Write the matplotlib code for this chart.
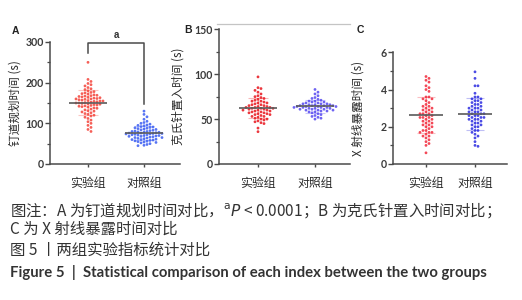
import matplotlib
matplotlib.use("Agg")
import matplotlib.pyplot as plt
import numpy as np

CJK = ["Noto Sans CJK SC", "DejaVu Sans"]
plt.rcParams["font.family"] = CJK

groups = ["实验组", "对照组"]

# panel A: 钉道规划时间 (s)
a_exp = [250, 208, 203, 198, 195, 192, 188, 185, 183, 180, 178, 176, 175, 173, 172, 170, 169, 168, 167, 166,
         165, 164, 163, 162, 161, 160, 160, 159, 158, 157, 156, 155, 155, 154, 153, 152, 151, 150, 150, 149,
         148, 147, 146, 145, 144, 143, 142, 141, 140, 138, 137, 135, 133, 131, 130, 128, 126, 124, 122, 120,
         118, 115, 112, 108, 104, 100, 95, 90, 85, 80]
a_ctl = [130, 122, 116, 110, 105, 102, 100, 98, 96, 95, 94, 92, 91, 90, 89, 88, 87, 86, 85, 84, 83, 82, 81,
         80, 80, 79, 78, 78, 77, 76, 76, 75, 75, 74, 74, 73, 72, 72, 71, 70, 70, 69, 68, 68, 67, 66, 65, 65,
         64, 63, 62, 61, 60, 60, 59, 58, 57, 56, 55, 54, 53, 52, 50, 48, 46, 45]

# panel B: 克氏针置入时间 (s)
b_exp = [97, 85, 84, 82, 80, 78, 76, 75, 74, 73, 72, 71, 70, 70, 69, 68, 68, 67, 66, 66, 65, 65, 64, 64, 63,
         63, 63, 62, 62, 62, 61, 61, 60, 60, 60, 59, 59, 58, 58, 57, 57, 56, 56, 55, 55, 54, 53, 53, 52, 51,
         50, 50, 49, 48, 47, 46, 45, 40, 36]
b_ctl = [83, 80, 78, 76, 74, 73, 72, 71, 70, 70, 69, 69, 68, 68, 67, 67, 67, 66, 66, 66, 65, 65, 65, 65, 64,
         64, 64, 64, 63, 63, 63, 63, 62, 62, 62, 61, 61, 61, 60, 60, 60, 59, 59, 58, 58, 57, 56, 55, 54, 53,
         52, 51, 50]

# panel C: X 射线暴露时间 (s)
c_exp = [4.7, 4.6, 4.5, 4.4, 4.2, 4.1, 4.0, 3.9, 3.6, 3.6, 3.5, 3.5, 3.4, 3.3, 3.2, 3.1, 3.1, 3.0, 3.0, 2.9,
         2.9, 2.8, 2.8, 2.7, 2.7, 2.7, 2.6, 2.6, 2.5, 2.5, 2.5, 2.4, 2.4, 2.3, 2.3, 2.2, 2.2, 2.1, 2.1, 2.0,
         2.0, 1.9, 1.8, 1.8, 1.7, 1.7, 1.7, 1.6, 1.5, 1.5, 1.4, 1.3, 1.2, 1.1, 1.0, 0.6]
c_ctl = [4.95, 4.6, 4.2, 4.2, 3.8, 3.6, 3.6, 3.5, 3.5, 3.4, 3.4, 3.3, 3.3, 3.2, 3.2, 3.1, 3.1, 3.0, 3.0, 3.0,
         2.9, 2.9, 2.8, 2.8, 2.8, 2.7, 2.7, 2.7, 2.6, 2.6, 2.6, 2.5, 2.5, 2.5, 2.4, 2.4, 2.4, 2.3, 2.3, 2.2,
         2.2, 2.1, 2.1, 2.0, 2.0, 1.9, 1.8, 1.8, 1.7, 1.6, 1.5, 1.4, 1.2, 1.0, 0.95]

panels = [
    dict(letter="A", data=(a_exp, a_ctl), ylabel="钉道规划时间 (s)", ylim=300, major=100,
         colors=("#f4433a", "#3a5cf2"), rect=(50, 42, 180), tick1=88, xspan=56, lab_x=22, let_xy=(12, 31)),
    dict(letter="B", data=(b_exp, b_ctl), ylabel="克氏针置入时间 (s)", ylim=150, major=50,
         colors=("#e8141c", "#5548f0"), rect=(219, 29.3, 350), tick1=258, xspan=57, lab_x=185, let_xy=(184, 30)),
    dict(letter="C", data=(c_exp, c_ctl), ylabel="X 射线暴露时间 (s)", ylim=6, major=2,
         colors=("#f2283a", "#2b2be0"), rect=(393, 52.3, 507), tick1=426, xspan=49, lab_x=365, let_xy=(357, 30)),
]

W, H = 522, 300
Y0 = 164  # pixel row of y = 0


def swarm(vals, px_per_unit, d=3.0):
    placed = []
    offs = []
    for v in vals:
        y = v * px_per_unit
        k = 0
        done = False
        while not done:
            for c in ([0.0] if k == 0 else [k * d, -k * d]):
                if all((c - px) ** 2 + (y - py) ** 2 >= d * d for px, py in placed):
                    placed.append((c, y))
                    offs.append(c)
                    done = True
                    break
            k += 1
    return np.array(offs)


fig = plt.figure(figsize=(W / 100, H / 100), dpi=100)
fig.patch.set_facecolor("white")

for p in panels:
    left, top, right = p["rect"]
    ax = fig.add_axes([left / W, 1 - Y0 / H, (right - left) / W, (Y0 - top) / H])
    x_lo = 1 - (p["tick1"] - left) / p["xspan"]
    x_hi = 1 + (right - p["tick1"]) / p["xspan"]
    ax.set_xlim(x_lo, x_hi)
    ax.set_ylim(0, p["ylim"])
    px_per_unit = (Y0 - top) / p["ylim"]

    for i, (vals, col) in enumerate(zip(p["data"], p["colors"])):
        vals = np.array(vals, dtype=float)
        xpos = i + 1 + swarm(vals, px_per_unit) / p["xspan"]
        ax.scatter(xpos, vals, s=4, color=col, edgecolors="none", alpha=0.85, zorder=3)
        m = vals.mean()
        sd = vals.std()
        ax.hlines([m + sd, m - sd], i + 1 - 0.18, i + 1 + 0.18, color=col, alpha=0.3, lw=0.8, zorder=2)
        ax.vlines(i + 1, m - sd, m + sd, color=col, alpha=0.3, lw=0.8, zorder=2)
        ax.hlines(m, i + 1 - 0.34, i + 1 + 0.34, color="#5a5a5a", lw=1.2, zorder=4)

    for s in ["top", "right"]:
        ax.spines[s].set_visible(False)
    for s in ["left", "bottom"]:
        ax.spines[s].set_color("#4a4a4a")
        ax.spines[s].set_linewidth(1.1)
    ax.set_yticks(np.arange(0, p["ylim"] + 1e-9, p["major"]))
    ax.set_yticks(np.arange(p["major"] / 2, p["ylim"], p["major"]), minor=True)
    ax.tick_params(axis="y", which="major", length=3.5, width=1, color="#4a4a4a", labelsize=7.6,
                   labelcolor="#3a3a3a", pad=1)
    ax.tick_params(axis="y", which="minor", length=2, width=0.9, color="#4a4a4a")
    ax.set_xticks([1, 2])
    ax.set_xticklabels(groups, fontsize=8.6, color="#2a2a2a")
    ax.tick_params(axis="x", length=2.5, width=1, color="#4a4a4a", pad=7)
    for lab in ax.get_yticklabels():
        lab.set_family(["Lato", "DejaVu Sans"])
        lab.set_fontweight("bold")
    ax.set_ylabel(p["ylabel"], fontsize=8.4, color="#2a2a2a")
    ax.yaxis.set_label_coords((p["lab_x"] - left) / (right - left), 0.5)
    ax.patch.set_alpha(0)
    fig.text(p["let_xy"][0] / W, 1 - p["let_xy"][1] / H, p["letter"], fontsize=7.5, fontweight="bold",
             family=["Liberation Sans"], color="#222222", va="center")

    if p["letter"] == "A":
        ax.plot([1, 1, 2, 2], [273, 297, 297, 148], color="#4a4a4a", lw=1.1, clip_on=False)
        ax.text(1.5, 304, "a", ha="center", va="bottom", fontsize=7, fontweight="bold",
                family=["Liberation Sans"], color="#333333")

# faint image border line above panel B
fig.add_artist(plt.Line2D([217 / W, 350 / W], [1 - 24 / H, 1 - 24 / H], color="#c4c4c4", lw=0.9))

cap_col = "#333333"
fig.text(10 / W, 1 - 210 / H, "图注：A 为钉道规划时间对比，$^{\\mathrm{a}}\\mathit{P}$ < 0.0001；B 为克氏针置入时间对比；",
         fontsize=11.1, color=cap_col, va="center")
fig.text(10 / W, 1 - 229 / H, "C 为 X 射线暴露时间对比", fontsize=11.1, color=cap_col, va="center")
fig.text(10 / W, 1 - 250 / H, "图 5 丨两组实验指标统计对比", fontsize=11.1, color=cap_col, va="center")
fig.text(10 / W, 1 - 272 / H, "Figure 5  |  Statistical comparison of each index between the two groups",
         fontsize=10.75, fontweight="bold", family=["Lato", "DejaVu Sans"], color=cap_col, va="center")

fig.savefig("out.png", dpi=100)
